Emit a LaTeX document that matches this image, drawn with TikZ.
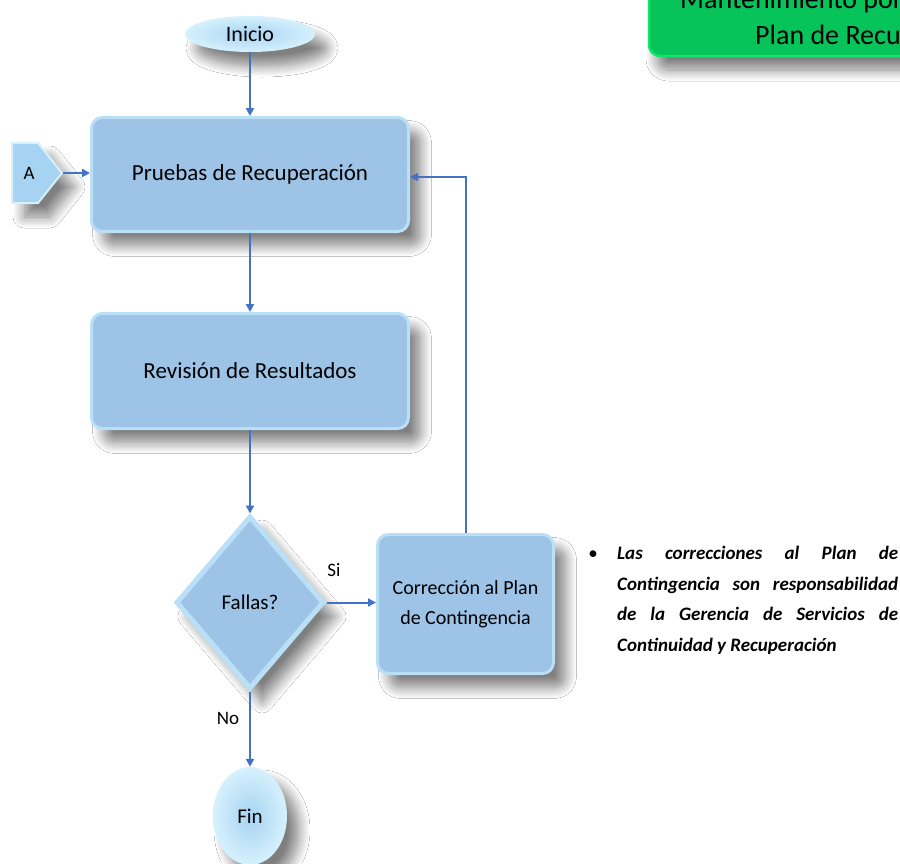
\documentclass[tikz,border=0pt]{standalone}
\usepackage{fontspec}
\setmainfont{Carlito}
\usetikzlibrary{shapes.geometric,arrows.meta,shadows.blur}

\definecolor{boxblue}{HTML}{9DC3E6}
\definecolor{glowblue}{HTML}{B9E0F7}
\definecolor{lightblue}{HTML}{A6D3F1}
\definecolor{paleblue}{HTML}{D6F1FD}
\definecolor{linkblue}{HTML}{4472C4}
\definecolor{titlegreen}{HTML}{06C35A}
\definecolor{titleedge}{HTML}{12E36E}

\tikzset{
  softshadow/.style={blur shadow={shadow xshift=12pt, shadow yshift=-14pt,
      shadow blur radius=11pt, shadow blur steps=12, shadow opacity=50}},
  stepbox/.style={rectangle, rounded corners=11pt, fill=boxblue, draw=glowblue,
      line width=3pt, align=center, inner sep=4pt, softshadow},
  terminal/.style={ellipse, inner sep=0pt, inner color=lightblue,
      outer color=paleblue, softshadow},
  decision/.style={diamond, inner sep=0pt, fill=boxblue, draw=glowblue,
      line width=5pt, softshadow},
  link/.style={draw=linkblue, line width=2pt, -{Triangle[length=8pt,width=8pt]}},
  lbl/.style={font=\fontsize{19}{22}\selectfont, inner sep=0pt},
}

\begin{document}
\begin{tikzpicture}[x=1pt,y=-1pt]
  \fill[white] (0,0) rectangle (900,863);
  \useasboundingbox (0,0) rectangle (900,863);
  \clip (0,0) rectangle (900,863);

  % title banner in the upper right corner
  \path[fill=titlegreen, draw=titleedge, line width=2.5pt, rounded corners=11pt,
        blur shadow={shadow xshift=8pt, shadow yshift=-14pt, shadow blur radius=11pt,
                     shadow blur steps=12, shadow opacity=50}]
        (649,-30) rectangle (1100,56);
  \node[anchor=base west, inner sep=0pt, font=\fontsize{28}{34}\selectfont] (ttlA) at (680,8) {Mantenimiento por Pruebas del};
  \node[anchor=base west, inner sep=0pt, font=\fontsize{28}{34}\selectfont] (ttlB) at (755,44) {Plan de Recuperación};

  % flow nodes
  \node[terminal, minimum width=130pt, minimum height=36pt, font=\fontsize{22}{26}\selectfont] (ini) at (250,34) {Inicio};
  \node[stepbox, minimum width=317pt, minimum height=114pt, font=\fontsize{23}{28}\selectfont] (pru) at (250,174.5) {Pruebas de Recuperación};
  \node[stepbox, minimum width=317pt, minimum height=115pt, font=\fontsize{23}{28}\selectfont] (rev) at (250,371) {Revisión de Resultados};
  \node[decision, minimum width=148pt, minimum height=173pt, font=\fontsize{21}{26}\selectfont] (fal) at (250,602.5) {Fallas?};
  \node[stepbox, minimum width=176pt, minimum height=139pt, font=\fontsize{20}{30}\selectfont] (cor) at (465.5,604) {Corrección al Plan\\de Contingencia};
  \node[terminal, minimum width=74pt, minimum height=98pt, font=\fontsize{21}{26}\selectfont] (fin) at (250,816) {Fin};

  % off-page connector A
  \path[fill=lightblue, draw=paleblue, line width=2pt, softshadow]
        (12,143) -- (38,143) -- (62,173) -- (38,203) -- (12,203) -- cycle;
  \node[lbl] (conA) at (29,173) {A};
  \coordinate (tipA) at (63,173);

  % connectors
  \draw[link] (tipA) -- (pru.west |- tipA);
  \draw[link] (ini.south) -- (pru.north);
  \draw[link] (pru.south) -- (rev.north);
  \draw[link] (rev.south) -- (fal.north);
  \draw[link] (fal.east) -- (cor.west |- fal.east);
  \draw[link] (fal.south) -- (fin.north);
  \draw[link] (cor.north) |- ([yshift=-2.5pt]pru.east);

  \node[lbl] (si) at (334,570) {Si};
  \node[lbl] (no) at (228,718) {No};

  % side note
  \node[lbl] (bul) at (593,555) {•};
  \node[anchor=north west, inner sep=0pt, text width=281pt, align=justify,
        font=\fontsize{19}{30.5}\selectfont\bfseries\itshape] (note) at (617,546)
    {\hyphenpenalty=10000\tolerance=10000
     Las correcciones al Plan de\linebreak
     Contingencia son responsabilidad\linebreak
     de la Gerencia de Servicios de\linebreak
     Continuidad y Recuperación};
\end{tikzpicture}
\end{document}
